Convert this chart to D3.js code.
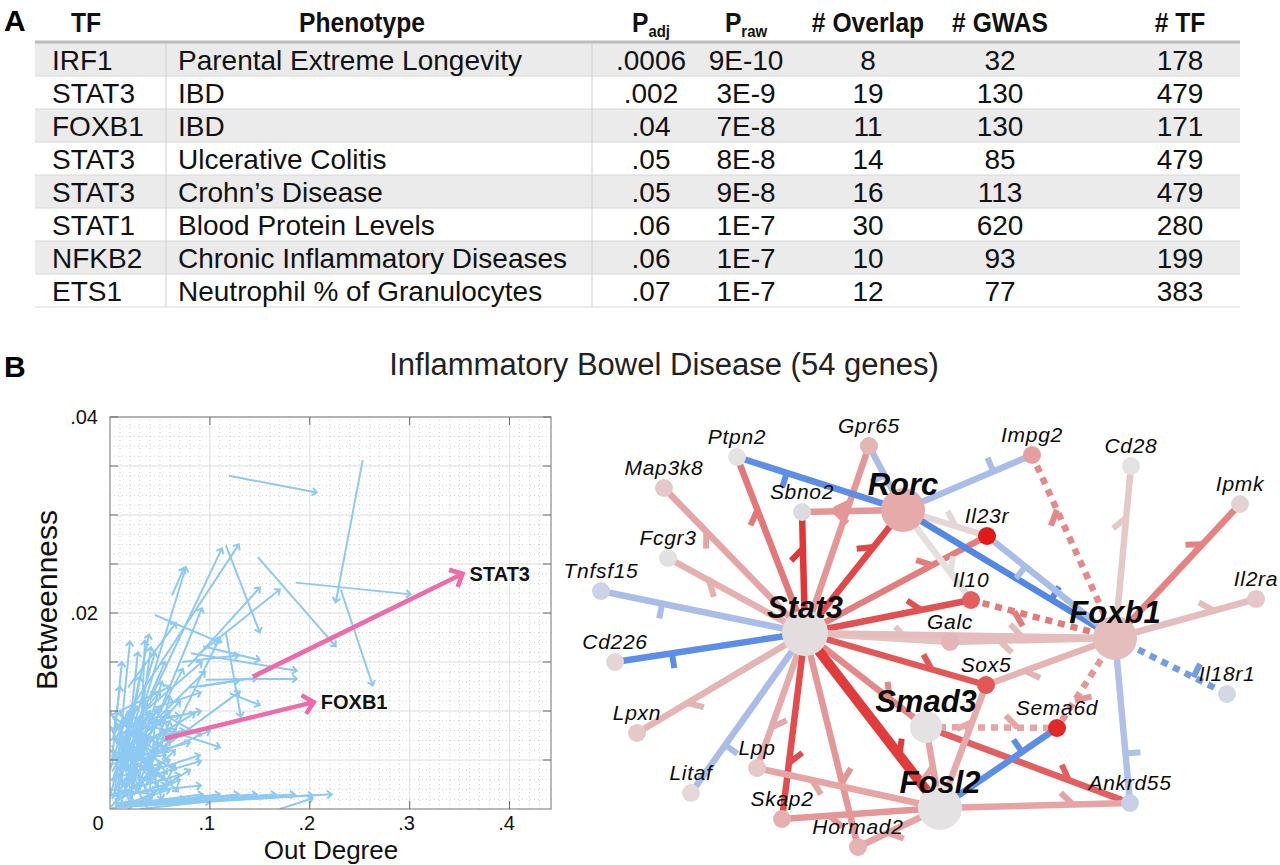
<!DOCTYPE html>
<html>
<head>
<meta charset="utf-8">
<script src="https://cdn.jsdelivr.net/npm/d3@7"></script>
<style>
  body { margin: 0; background: #fff; }
  svg { display: block; font-family: "Liberation Sans", Arial, Helvetica, sans-serif; }
</style>
</head>
<body>
<svg id="fig" width="1280" height="865"></svg>
<script>
// ---------- Panel A: table
const tfNames = ['IRF1', 'STAT3', 'FOXB1', 'STAT3', 'STAT3', 'STAT1', 'NFKB2', 'ETS1'];
const phenotypes = ['Parental Extreme Longevity', 'IBD', 'IBD', 'Ulcerative Colitis', 'Crohn\u2019s Disease',
  'Blood Protein Levels', 'Chronic Inflammatory Diseases', 'Neutrophil % of Granulocytes'];
const pAdj = ['.0006', '.002', '.04', '.05', '.05', '.06', '.06', '.07'];
const pRaw = ['9E-10', '3E-9', '7E-8', '8E-8', '9E-8', '1E-7', '1E-7', '1E-7'];
const nOverlap = [8, 19, 11, 14, 16, 30, 10, 12];
const nGwas = [32, 130, 130, 85, 113, 620, 93, 77];
const nTf = [178, 479, 171, 479, 479, 280, 199, 383];

// ---------- Panel B left: out degree vs betweenness, [x0, y0, x1, y1]
const blueArrows = [
  [0.119, 0.0340, 0.207, 0.0323], [0.253, 0.0356, 0.226, 0.0211], [0.186, 0.0231, 0.301, 0.0219],
  [0.231, 0.0224, 0.263, 0.0126], [0.148, 0.0257, 0.226, 0.0166], [0.116, 0.0269, 0.150, 0.0180],
  [0.040, 0.0111, 0.112, 0.0266], [0.005, 0.0078, 0.129, 0.0270], [0.078, 0.0145, 0.150, 0.0226],
  [0.090, 0.0159, 0.170, 0.0224], [0.062, 0.0218, 0.074, 0.0246], [0.020, 0.0060, 0.076, 0.0247],
  [0.045, 0.0198, 0.110, 0.0170], [0.081, 0.0159, 0.187, 0.0141], [0.096, 0.0132, 0.187, 0.0133],
  [0.093, 0.0166, 0.150, 0.0152], [0.116, 0.0180, 0.131, 0.0094], [0.120, 0.0118, 0.150, 0.0106],
  [0.080, 0.0124, 0.147, 0.0134], [0.090, 0.0125, 0.129, 0.0131], [0.072, 0.0150, 0.129, 0.0157],
  [0.056, 0.0081, 0.110, 0.0063], [0.056, 0.0095, 0.091, 0.0075], [0.050, 0.0105, 0.091, 0.0119],
  [0.045, 0.0090, 0.091, 0.0100], [0.027, 0.0030, 0.091, 0.0049], [0.016, 0.0016, 0.091, 0.0024],
  [0.040, 0.0080, 0.073, 0.0143], [0.030, 0.0050, 0.092, 0.0205], [0.018, 0.0124, 0.066, 0.0190],
  [0.060, 0.0070, 0.110, 0.0175], [0.035, 0.0100, 0.092, 0.0150], [0.050, 0.0060, 0.130, 0.0120],
  [0.010, 0.0030, 0.039, 0.0178], [0.005, 0.0020, 0.020, 0.0171], [0.030, 0.0050, 0.035, 0.0172],
  [0.015, 0.0040, 0.028, 0.0160], [0.020, 0.0010, 0.041, 0.0165], [0.002, 0.0050, 0.012, 0.0150],
  [0.025, 0.0080, 0.055, 0.0150], [0.000, 0.0095, 0.060, 0.0125],
  // bottom row
  [0.010, 0.0004, 0.093, 0.0015], [0.012, 0.0003, 0.110, 0.0015], [0.008, 0.0002, 0.129, 0.0015],
  [0.015, 0.0004, 0.147, 0.0015], [0.010, 0.0002, 0.166, 0.0015], [0.020, 0.0003, 0.185, 0.0015],
  [0.012, 0.0002, 0.203, 0.0014], [0.025, 0.0004, 0.222, 0.0015], [0.170, 0.0000, 0.203, 0.0011],
  [0.005, 0.0010, 0.056, 0.0025], [0.003, 0.0006, 0.075, 0.0010], [0.006, 0.0012, 0.040, 0.0032],
  // dense cluster near the origin
  [0.002, 0.0010, 0.030, 0.0080], [0.004, 0.0030, 0.050, 0.0090], [0.001, 0.0060, 0.040, 0.0040],
  [0.003, 0.0095, 0.045, 0.0060], [0.006, 0.0000, 0.020, 0.0100], [0.010, 0.0020, 0.060, 0.0070],
  [0.002, 0.0050, 0.055, 0.0080], [0.015, 0.0060, 0.060, 0.0100], [0.000, 0.0085, 0.030, 0.0020],
  [0.005, 0.0070, 0.055, 0.0030], [0.020, 0.0000, 0.035, 0.0110], [0.025, 0.0020, 0.065, 0.0060],
  [0.001, 0.0030, 0.060, 0.0050], [0.008, 0.0090, 0.060, 0.0080], [0.012, 0.0045, 0.040, 0.0100],
  [0.030, 0.0010, 0.070, 0.0030], [0.000, 0.0020, 0.045, 0.0015], [0.004, 0.0005, 0.050, 0.0045],
  [0.018, 0.0080, 0.050, 0.0120], [0.035, 0.0030, 0.060, 0.0090], [0.000, 0.0100, 0.025, 0.0050],
  [0.010, 0.0100, 0.045, 0.0030], [0.002, 0.0065, 0.020, 0.0005], [0.040, 0.0020, 0.045, 0.0090],
  [0.006, 0.0040, 0.070, 0.0110], [0.000, 0.0040, 0.015, 0.0090], [0.008, 0.0060, 0.035, 0.0005],
  [0.015, 0.0015, 0.025, 0.0070], [0.030, 0.0070, 0.075, 0.0080], [0.012, 0.0070, 0.065, 0.0040],
  [0.000, 0.0070, 0.050, 0.0100], [0.020, 0.0050, 0.056, 0.0055], [0.045, 0.0040, 0.090, 0.0055],
  [0.003, 0.0080, 0.036, 0.0110], [0.022, 0.0025, 0.010, 0.0080], [0.050, 0.0015, 0.065, 0.0045],
  [0.001, 0.0002, 0.052, 0.0068], [0.003, 0.0075, 0.048, 0.0022], [0.000, 0.0045, 0.058, 0.0062],
  [0.007, 0.0088, 0.041, 0.0008], [0.011, 0.0005, 0.038, 0.0098], [0.016, 0.0092, 0.057, 0.0036],
  [0.002, 0.0028, 0.027, 0.0105], [0.021, 0.0068, 0.003, 0.0012], [0.026, 0.0095, 0.052, 0.0010],
  [0.004, 0.0058, 0.062, 0.0026], [0.009, 0.0018, 0.033, 0.0062], [0.000, 0.0012, 0.021, 0.0098],
  [0.014, 0.0030, 0.066, 0.0082], [0.032, 0.0088, 0.008, 0.0040], [0.005, 0.0100, 0.058, 0.0058],
  [0.019, 0.0042, 0.047, 0.0102], [0.028, 0.0058, 0.068, 0.0018], [0.001, 0.0082, 0.044, 0.0092],
  [0.010, 0.0066, 0.024, 0.0004], [0.036, 0.0048, 0.006, 0.0072], [0.006, 0.0022, 0.042, 0.0050],
  [0.024, 0.0014, 0.055, 0.0090], [0.013, 0.0078, 0.063, 0.0070], [0.000, 0.0060, 0.030, 0.0032],
  [0.017, 0.0100, 0.038, 0.0040], [0.043, 0.0072, 0.012, 0.0025], [0.002, 0.0038, 0.016, 0.0064],
  [0.029, 0.0028, 0.036, 0.0085], [0.008, 0.0050, 0.051, 0.0105], [0.040, 0.0010, 0.020, 0.0058],
  [0.003, 0.0015, 0.070, 0.0035], [0.012, 0.0092, 0.070, 0.0095], [0.022, 0.0052, 0.080, 0.0068],
  [0.034, 0.0066, 0.085, 0.0098], [0.045, 0.0055, 0.100, 0.0080], [0.050, 0.0095, 0.095, 0.0140],
  [0.008, 0.0030, 0.030, 0.0135], [0.014, 0.0050, 0.045, 0.0160], [0.003, 0.0070, 0.010, 0.0125],
  [0.025, 0.0040, 0.052, 0.0130], [0.035, 0.0020, 0.060, 0.0115], [0.018, 0.0000, 0.080, 0.0040],
  [0.000, 0.0000, 0.060, 0.0020], [0.005, 0.0004, 0.040, 0.0006], [0.030, 0.0000, 0.100, 0.0008]
];
const pinkArrows = [[0.055, 0.0072, 0.204, 0.0109], [0.143, 0.0135, 0.353, 0.0240]];
const pinkLabels = ['FOXB1', 'STAT3'];
const xTicks = [0, 0.1, 0.2, 0.3, 0.4];
const xTickLabels = ['0', '.1', '.2', '.3', '.4'];
const yTicks = [0, 0.02, 0.04];
const yTickLabels = ['0', '.02', '.04'];

// ---------- Panel B right: regulatory network
const genes = ['Stat3', 'Rorc', 'Foxb1', 'Smad3', 'Fosl2', 'Ptpn2', 'Gpr65', 'Map3k8', 'Sbno2', 'Impg2',
  'Cd28', 'Ipmk', 'Il23r', 'Fcgr3', 'Tnfsf15', 'Il10', 'Il2ra', 'Galc', 'Cd226', 'Sox5', 'Il18r1',
  'Sema6d', 'Lpxn', 'Lpp', 'Litaf', 'Ankrd55', 'Skap2', 'Hormad2'];
// node colour score (-1 blue .. +1 red)
const geneScore = [0.04, 0.45, 0.3, 0, 0, 0, 0.36, 0.2, -0.08, 0.52,
  0, 0.12, 1, -0.02, -0.2, 0.75, 0.22, 0.36, 0.1, 0.78, -0.14,
  0.95, 0.2, 0.2, 0.08, -0.24, 0.4, 0.38];
// [source, target, sign weight, inferred (dashed), support]
const edges = [
  ['Stat3', 'Map3k8', 0.5, 0, 1], ['Stat3', 'Ptpn2', 0.66, 0, 1], ['Stat3', 'Sbno2', 0.9, 0, 1],
  ['Stat3', 'Gpr65', 0.55, 0, 1], ['Stat3', 'Rorc', 0.84, 0, 1], ['Stat3', 'Fcgr3', 0.4, 0, 1],
  ['Stat3', 'Tnfsf15', -0.5, 0, 1], ['Stat3', 'Cd226', -0.85, 0, 1], ['Stat3', 'Il23r', 0.64, 0, 1],
  ['Stat3', 'Il10', 0.8, 0, 1], ['Stat3', 'Galc', 0.25, 0, 1], ['Stat3', 'Sox5', 0.78, 0, 1],
  ['Stat3', 'Foxb1', 0.3, 0, 1], ['Stat3', 'Smad3', 0.6, 0, 1], ['Stat3', 'Fosl2', 0.88, 0, 2],
  ['Stat3', 'Lpxn', 0.36, 0, 1], ['Stat3', 'Litaf', -0.5, 0, 1], ['Stat3', 'Lpp', 0.45, 0, 1],
  ['Stat3', 'Skap2', 0.82, 0, 1], ['Stat3', 'Hormad2', 0.55, 0, 1], ['Smad3', 'Ankrd55', 0.75, 0, 1],
  ['Rorc', 'Ptpn2', -0.85, 0, 1], ['Rorc', 'Gpr65', -0.5, 0, 1], ['Rorc', 'Sbno2', 0.55, 0, 1],
  ['Rorc', 'Impg2', -0.5, 0, 1], ['Rorc', 'Il23r', 0.1, 0, 1], ['Rorc', 'Il10', 0.02, 0, 1],
  ['Rorc', 'Foxb1', -0.9, 0, 1], ['Foxb1', 'Il23r', -0.5, 0, 1], ['Foxb1', 'Impg2', 0.6, 1, 1],
  ['Foxb1', 'Cd28', 0.2, 0, 1], ['Foxb1', 'Ipmk', 0.62, 0, 1], ['Foxb1', 'Il2ra', 0.3, 0, 1],
  ['Foxb1', 'Il10', 0.65, 1, 1], ['Foxb1', 'Galc', 0.3, 0, 1], ['Foxb1', 'Sox5', 0.38, 0, 1],
  ['Foxb1', 'Il18r1', -0.75, 1, 1], ['Foxb1', 'Sema6d', 0.55, 1, 1], ['Foxb1', 'Ankrd55', -0.45, 0, 1],
  ['Smad3', 'Sema6d', 0.5, 1, 1], ['Fosl2', 'Lpp', 0.5, 0, 1], ['Fosl2', 'Skap2', 0.55, 0, 1],
  ['Fosl2', 'Hormad2', 0.5, 0, 1], ['Fosl2', 'Ankrd55', 0.5, 0, 1], ['Fosl2', 'Sema6d', -0.85, 0, 1],
  ['Fosl2', 'Smad3', 0.5, 0, 1], ['Fosl2', 'Sox5', 0.45, 0, 1]
];

// layout of the network drawing (panel units) and hub radii
const layout = {
  Stat3: [225, 233], Rorc: [323, 110], Foxb1: [535, 238], Smad3: [346, 327], Fosl2: [360, 408],
  Ptpn2: [157, 57], Gpr65: [289, 46], Map3k8: [84, 88], Sbno2: [222, 112], Impg2: [452, 55],
  Cd28: [551, 66], Ipmk: [660, 104], Il23r: [407, 136], Fcgr3: [88, 158], Tnfsf15: [21, 191],
  Il10: [391, 200], Il2ra: [676, 199], Galc: [370, 242], Cd226: [35, 262], Sox5: [406, 285],
  Il18r1: [647, 294], Sema6d: [477, 328], Lpxn: [57, 333], Lpp: [177, 368], Litaf: [111, 393],
  Ankrd55: [550, 403], Skap2: [202, 419], Hormad2: [278, 447]
};
const hubRadius = { Stat3: 23, Rorc: 22, Foxb1: 22, Smad3: 16, Fosl2: 22 };

const svg = d3.select('#fig');

// ================= Panel A =================
svg.append('text').attr('x', 4).attr('y', 31).attr('font-size', 30).attr('font-weight', 'bold').text('A');

const rowY = d3.scaleBand().domain(d3.range(tfNames.length)).range([43, 307]);
const tbl = svg.append('g');
tbl.selectAll('rect').data(d3.range(tfNames.length)).join('rect')
  .attr('x', 35).attr('width', 1205)
  .attr('y', i => rowY(i)).attr('height', rowY.bandwidth())
  .attr('fill', i => i % 2 === 0 ? '#ebebeb' : '#fff');
tbl.selectAll('line.sep').data(d3.range(1, tfNames.length + 1)).join('line')
  .attr('x1', 35).attr('x2', 1240)
  .attr('y1', i => rowY(i - 1) + rowY.bandwidth()).attr('y2', i => rowY(i - 1) + rowY.bandwidth())
  .attr('stroke', '#d8d8d8').attr('stroke-width', 1);
[166, 592].forEach(x => tbl.append('line').attr('x1', x).attr('x2', x).attr('y1', 43).attr('y2', 307)
  .attr('stroke', '#d0d0d0').attr('stroke-width', 1));
tbl.append('line').attr('x1', 35).attr('x2', 1240).attr('y1', 42).attr('y2', 42)
  .attr('stroke', '#bcbcbc').attr('stroke-width', 3);

const columns = [
  { head: 'TF', hx: 86, values: tfNames, x: 52, anchor: 'start' },
  { head: 'Phenotype', hx: 362, values: phenotypes, x: 178, anchor: 'start' },
  { head: 'P', sub: 'adj', hx: 651, values: pAdj, x: 651, anchor: 'middle' },
  { head: 'P', sub: 'raw', hx: 746, values: pRaw, x: 746, anchor: 'middle' },
  { head: '# Overlap', hx: 868, values: nOverlap, x: 868, anchor: 'middle' },
  { head: '# GWAS', hx: 1000, values: nGwas, x: 1000, anchor: 'middle' },
  { head: '# TF', hx: 1180, values: nTf, x: 1180, anchor: 'middle' }
];
columns.forEach(c => {
  const h = tbl.append('text').attr('transform', `translate(${c.hx},32) scale(0.88,1)`)
    .attr('text-anchor', 'middle').attr('font-size', 28).attr('font-weight', 'bold').attr('fill', '#111');
  h.append('tspan').text(c.head);
  if (c.sub) h.append('tspan').attr('font-size', 17).attr('dy', 5).text(c.sub);
  tbl.selectAll(null).data(c.values).join('text')
    .attr('x', c.x).attr('y', (d, i) => rowY(i) + rowY.bandwidth() / 2 + 10)
    .attr('text-anchor', c.anchor).attr('font-size', 28).attr('fill', '#111')
    .text(d => d);
});

// ================= Panel B =================
svg.append('text').attr('x', 4).attr('y', 377).attr('font-size', 30).attr('font-weight', 'bold').text('B');
svg.append('text').attr('x', 664).attr('y', 375).attr('text-anchor', 'middle')
  .attr('font-size', 31).attr('fill', '#222').text('Inflammatory Bowel Disease (54 genes)');

// ---- scatter of arrows
const sx = d3.scaleLinear().domain([0, 0.4415]).range([110, 551]);
const sy = d3.scaleLinear().domain([0, 0.04]).range([809, 417]);
const plot = svg.append('g');

plot.append('defs').append('clipPath').attr('id', 'plotClip')
  .append('rect').attr('x', sx(0)).attr('y', sy(0.04)).attr('width', sx(0.4415) - sx(0)).attr('height', sy(0) - sy(0.04));

// minor dotted grid
plot.append('g').selectAll('line').data(d3.range(0.01, 0.44, 0.01)).join('line')
  .attr('x1', d => sx(d)).attr('x2', d => sx(d)).attr('y1', sy(0)).attr('y2', sy(0.04))
  .attr('stroke', '#cfcfcf').attr('stroke-width', 0.9).attr('stroke-dasharray', '1,3');
plot.append('g').selectAll('line').data(d3.range(0.001, 0.04, 0.001)).join('line')
  .attr('x1', sx(0)).attr('x2', sx(0.4415)).attr('y1', d => sy(d)).attr('y2', d => sy(d))
  .attr('stroke', '#cfcfcf').attr('stroke-width', 0.9).attr('stroke-dasharray', '1,3');
// major grid
plot.append('g').selectAll('line').data([0.1, 0.2, 0.3, 0.4]).join('line')
  .attr('x1', d => sx(d)).attr('x2', d => sx(d)).attr('y1', sy(0)).attr('y2', sy(0.04))
  .attr('stroke', '#e2e2e2').attr('stroke-width', 1);
plot.append('g').selectAll('line').data(d3.range(0.005, 0.04, 0.005)).join('line')
  .attr('x1', sx(0)).attr('x2', sx(0.4415)).attr('y1', d => sy(d)).attr('y2', d => sy(d))
  .attr('stroke', '#e2e2e2').attr('stroke-width', 1);

function arrowPath(x0, y0, x1, y1, len, ang) {
  const a = Math.atan2(y1 - y0, x1 - x0);
  const p = d3.path();
  p.moveTo(x0, y0); p.lineTo(x1, y1);
  p.moveTo(x1 - len * Math.cos(a - ang), y1 - len * Math.sin(a - ang));
  p.lineTo(x1, y1);
  p.lineTo(x1 - len * Math.cos(a + ang), y1 - len * Math.sin(a + ang));
  return p.toString();
}

const arrowsG = plot.append('g').attr('clip-path', 'url(#plotClip)');
arrowsG.selectAll('path.blue').data(blueArrows).join('path')
  .attr('d', d => arrowPath(sx(d[0]), sy(d[1]), sx(d[2]), sy(d[3]), 6, 0.7))
  .attr('fill', 'none').attr('stroke', '#8dc9f2').attr('stroke-width', 2);
arrowsG.selectAll('path.pink').data(pinkArrows).join('path')
  .attr('d', d => arrowPath(sx(d[0]), sy(d[1]), sx(d[2]), sy(d[3]), 14, 0.75))
  .attr('fill', 'none').attr('stroke', '#ef6aa8').attr('stroke-width', 4.5)
  .attr('stroke-linejoin', 'miter');
plot.selectAll('text.plab').data(pinkArrows).join('text')
  .attr('x', d => sx(d[2]) + 7).attr('y', d => sy(d[3]) + 7)
  .attr('font-size', 20).attr('font-weight', 'bold').attr('fill', '#111')
  .text((d, i) => pinkLabels[i]);

// frame and ticks
plot.append('rect').attr('x', sx(0)).attr('y', sy(0.04)).attr('width', sx(0.4415) - sx(0))
  .attr('height', sy(0) - sy(0.04)).attr('fill', 'none').attr('stroke', '#8a8a8a').attr('stroke-width', 1.2);
const yMajor = d3.range(0.005, 0.04, 0.005);
plot.append('g').selectAll('path').data(yMajor).join('path')
  .attr('d', d => `M${sx(0)},${sy(d)}h8M${sx(0.4415)},${sy(d)}h-8`)
  .attr('stroke', '#6a6a6a').attr('stroke-width', 1);
plot.append('g').selectAll('path').data(xTicks.slice(1)).join('path')
  .attr('d', d => `M${sx(d)},${sy(0)}v-8M${sx(d)},${sy(0.04)}v8`)
  .attr('stroke', '#6a6a6a').attr('stroke-width', 1);

plot.selectAll('text.xt').data(xTicks).join('text')
  .attr('x', (d, i) => sx(d) - (i === 0 ? 12 : 3)).attr('y', sy(0) + 21)
  .attr('text-anchor', 'middle').attr('font-size', 20).attr('fill', '#111')
  .text((d, i) => xTickLabels[i]);
plot.selectAll('text.yt').data(yTicks.slice(1)).join('text')
  .attr('x', sx(0) - 12).attr('y', d => sy(d) + 7)
  .attr('text-anchor', 'end').attr('font-size', 20).attr('fill', '#111')
  .text((d, i) => yTickLabels[i + 1]);
plot.append('text').attr('x', 331).attr('y', 859).attr('text-anchor', 'middle')
  .attr('font-size', 26).attr('fill', '#111').text('Out Degree');
plot.append('text').attr('transform', 'translate(57,600) rotate(-90)').attr('text-anchor', 'middle')
  .attr('font-size', 30).attr('fill', '#111').text('Betweenness');

// ---- network
const nx = d3.scaleLinear().domain([0, 700]).range([580, 1280]);
const ny = d3.scaleLinear().domain([0, 465]).range([400, 865]);
const colour = d3.scaleLinear().domain([-1, -0.5, 0, 0.5, 1])
  .range(['#3d7ae6', '#a9bde8', '#e4e2e2', '#e6a4a4', '#e01a1a']).interpolate(d3.interpolateRgb);
const scoreOf = Object.fromEntries(genes.map((g, i) => [g, geneScore[i]]));
const pos = g => [nx(layout[g][0]), ny(layout[g][1])];
const radius = g => hubRadius[g] || 9;

const net = svg.append('g');
const edgeG = net.append('g');
edges.forEach(([s, t, w, inferred, support]) => {
  const [x0, y0] = pos(s), [x1, y1] = pos(t);
  const len = Math.hypot(x1 - x0, y1 - y0);
  const ux = (x1 - x0) / len, uy = (y1 - y0) / len;
  const col = colour(w);
  const sw = support > 1 ? 10 : 6.5;
  edgeG.append('line').attr('x1', x0).attr('y1', y0).attr('x2', x1).attr('y2', y1)
    .attr('stroke', col).attr('stroke-width', sw)
    .attr('stroke-dasharray', inferred ? '7,6' : null);
  // regulation mark near the target
  const d = Math.max(radius(t) + 24, 0.3 * len);
  const px = x1 - ux * d, py = y1 - uy * d;
  const lx = uy, ly = -ux;   // side normal
  let ex, ey;
  if (w < 0) { ex = px + lx * 15; ey = py + ly * 15; }
  else { ex = px + (-ux * 0.707 + lx * 0.707) * 17; ey = py + (-uy * 0.707 + ly * 0.707) * 17; }
  edgeG.append('line').attr('x1', px).attr('y1', py).attr('x2', ex).attr('y2', ey)
    .attr('stroke', col).attr('stroke-width', 6);
});

net.append('g').selectAll('circle').data(genes).join('circle')
  .attr('cx', g => pos(g)[0]).attr('cy', g => pos(g)[1]).attr('r', radius)
  .attr('fill', g => colour(scoreOf[g]));

net.append('g').selectAll('text').data(genes).join('text')
  .attr('x', g => pos(g)[0]).attr('y', g => pos(g)[1] - (hubRadius[g] ? 15 : 13))
  .attr('text-anchor', 'middle').attr('font-style', 'italic')
  .attr('font-weight', g => hubRadius[g] ? 'bold' : 'normal')
  .attr('font-size', g => hubRadius[g] ? 31 : 21)
  .attr('letter-spacing', g => hubRadius[g] ? 0 : 0.7)
  .attr('fill', '#0a0a0a')
  .text(g => g);
</script>
</body>
</html>
